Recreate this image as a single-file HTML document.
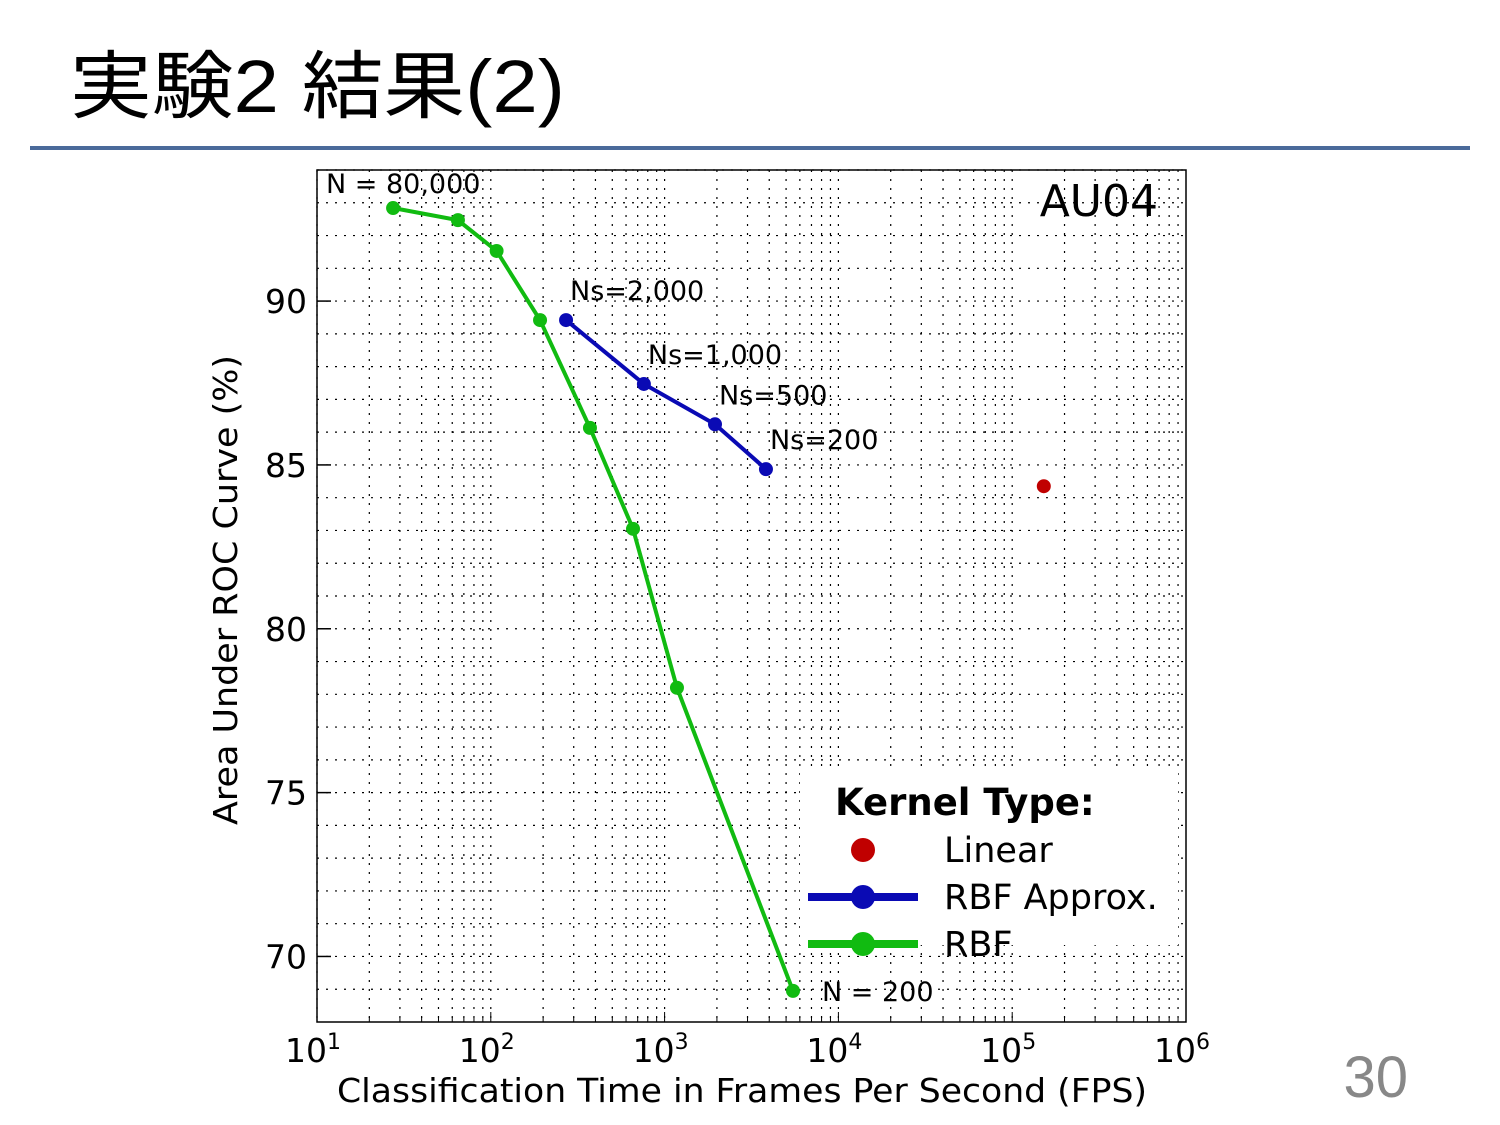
<!DOCTYPE html>
<html><head><meta charset="utf-8"><style>
body{margin:0;width:1500px;height:1125px;background:#fff;overflow:hidden;font-family:"Liberation Sans","Noto Sans CJK JP",sans-serif}
</style></head><body>
<svg width="1500" height="1125" style="position:absolute;left:0;top:0">
<text x="70" y="112" font-size="74" textLength="495" lengthAdjust="spacingAndGlyphs" font-family="Liberation Sans, Noto Sans CJK JP, sans-serif">実験2 結果(2)</text>
<rect x="30" y="146" width="1440" height="4" fill="#4a6a9a"/>
<text x="1408" y="1097" font-size="58" fill="#888" text-anchor="end" font-family="Liberation Sans, sans-serif">30</text>
<g id="chart" font-family="DejaVu Sans, sans-serif"></g>
</svg>
<script>
const xTicks=[1,2,3,4,5,6];
const yTicks=[70,75,80,85,90];
const rbfFps=[27.4,64.7,108,192,372,658,1178,5480];
const rbfAuc=[92.84,92.47,91.53,89.42,86.13,83.05,78.2,68.95];
const approxFps=[271,760,1950,3830];
const approxAuc=[89.42,87.47,86.24,84.87];
const approxLabels=["Ns=2,000","Ns=1,000","Ns=500","Ns=200"];
const linearFps=[152000];
const linearAuc=[84.35];
const L=317,R=1186,T=170,B=1022;
const x=v=>L+(Math.log10(v)-1)/5*(R-L);
const y=v=>B-(v-68)/26*(B-T);
const NS="http://www.w3.org/2000/svg";
const g=document.getElementById('chart');
function mk(t,a,txt){const e=document.createElementNS(NS,t);for(const k in a)e.setAttribute(k,a[k]);if(txt!==undefined)e.textContent=txt;g.appendChild(e);return e;}
for(let d=1;d<6;d++)for(let m=1;m<10;m++){const v=Math.pow(10,d)*m;const xx=x(v);
const e=mk('line',{x1:xx,x2:xx,y1:T,y2:B,stroke:'#000','stroke-width':1.2,'stroke-dasharray':'2,7'});


const t=mk('line',{x1:xx,x2:xx,y1:B,y2:B-(m==1?10:5),stroke:'#000','stroke-width':1});

}
for(let v=69;v<=94;v++){const yy=y(v);
const e=mk('line',{x1:L,x2:R,y1:yy,y2:yy,stroke:'#000','stroke-width':1.2,'stroke-dasharray':'2,7'});

}
const fr=mk('rect',{x:L,y:T,width:R-L,height:B-T,fill:'none',stroke:'#000','stroke-width':1.5});


yTicks.forEach(v=>{const t=mk('text',{x:L-10,y:y(v)+12,'font-size':33,'text-anchor':'end'},String(v));


const l=mk('line',{x1:L,x2:L+14,y1:y(v),y2:y(v),stroke:'#000','stroke-width':1.5});

});
xTicks.forEach(p=>{const t=mk('text',{x:x(Math.pow(10,p))-4,y:1062,'font-size':33,'text-anchor':'middle'});
t.innerHTML='10<tspan dy="-13" font-size="22">'+p+'</tspan>';

});
let t=mk('text',{x:337,y:1102,'font-size':33,textLength:810,lengthAdjust:'spacingAndGlyphs'},'Classification Time in Frames Per Second (FPS)');


t=mk('text',{x:0,y:0,'font-size':33,textLength:470,lengthAdjust:'spacingAndGlyphs',transform:'translate(237 825) rotate(-90)'},'Area Under ROC Curve (%)');


t=mk('text',{x:1158,y:216,'font-size':44,'text-anchor':'end'},'AU04');


function series(xs,ys,col,name){
if(xs.length>1){const p=mk('polyline',{points:xs.map((v,i)=>x(v)+','+y(ys[i])).join(' '),fill:'none',stroke:col,'stroke-width':4});

}
xs.forEach((v,i)=>{const c=mk('circle',{cx:x(v),cy:y(ys[i]),r:7,fill:col});

});}
series(rbfFps,rbfAuc,'#11bb11','rbf');
series(approxFps,approxAuc,'#0a0ab4','rbf-approx');
series(linearFps,linearAuc,'#c00000','linear');
approxLabels.forEach((s,i)=>{const tt=mk('text',{x:x(approxFps[i])+4,y:y(approxAuc[i])-20,'font-size':27},s);

});
t=mk('text',{x:326,y:193,'font-size':27},'N = 80,000');


t=mk('text',{x:822,y:1001,'font-size':27},'N = 200');


const lg=mk('rect',{x:800,y:770,width:378,height:175,fill:'#fff'});


t=mk('text',{x:835,y:815,'font-size':37,'font-weight':'bold'},'Kernel Type:');


const le=[['Linear','#c00000',850,false],['RBF Approx.','#0a0ab4',897,true],['RBF','#11bb11',944,true]];
le.forEach(a=>{if(a[3]){const l=mk('line',{x1:808,x2:918,y1:a[2],y2:a[2],stroke:a[1],'stroke-width':8});

}
const c=mk('circle',{cx:863,cy:a[2],r:12,fill:a[1]});


const tx=mk('text',{x:944,y:a[2]+12,'font-size':35},a[0]);

});
</script>
</body></html>
